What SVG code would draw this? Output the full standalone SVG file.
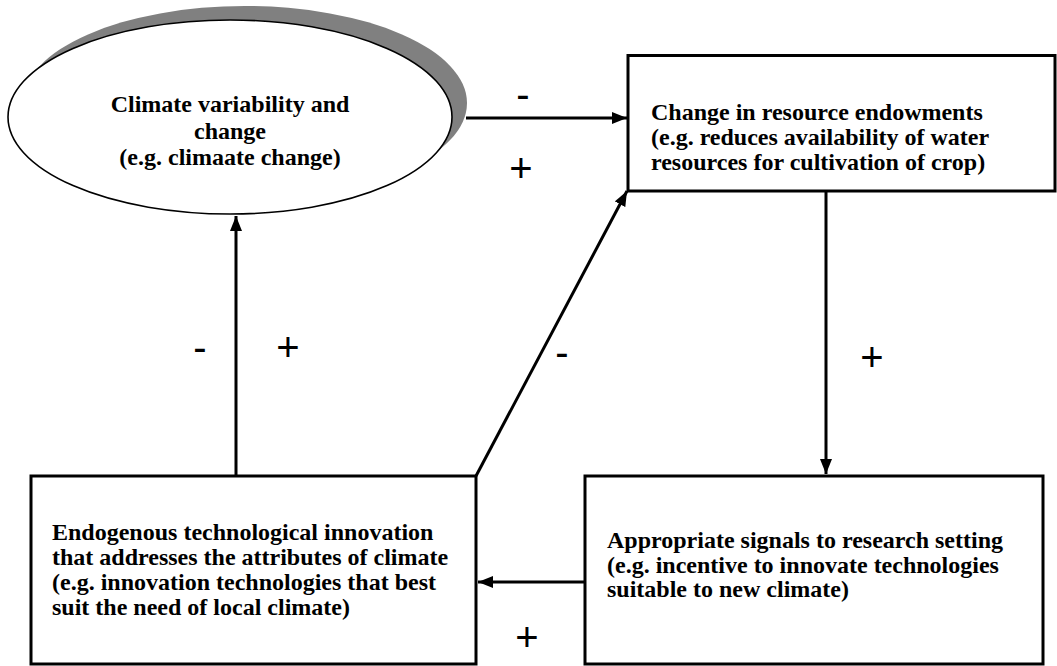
<svg xmlns="http://www.w3.org/2000/svg" width="1057" height="666" viewBox="0 0 1057 666">
<style>
.box{fill:#fff;stroke:#000;stroke-width:3}
.t{font-family:"Liberation Serif","Times New Roman",serif;font-weight:bold;font-size:24px;fill:#000}
.lbl{font-family:"Liberation Sans",Arial,sans-serif;font-size:40px;fill:#000;text-anchor:middle}
.c{fill:none;stroke:#000;stroke-width:3}
</style>
<defs>
<marker id="ah" markerUnits="userSpaceOnUse" markerWidth="16" markerHeight="13" refX="15" refY="6" orient="auto">
<path d="M0,0 L15,6 L0,12 z" fill="#000"/>
</marker>
</defs>
<rect width="1057" height="666" fill="#fff"/>
<g id="node-climate">
<ellipse cx="245" cy="103" rx="222" ry="97" fill="#808080"/>
<ellipse cx="230" cy="117" rx="222" ry="97" fill="#fff" stroke="#000" stroke-width="1.6"/>
<text class="t" text-anchor="middle"><tspan x="230" y="112">Climate variability and</tspan><tspan x="230" y="138.5">change</tspan><tspan x="230" y="165">(e.g. climaate change)</tspan></text>
</g>
<g id="node-resource">
<rect class="box" x="628" y="55.5" width="427" height="135.5"/>
<text class="t"><tspan x="651" y="120">Change in resource endowments</tspan><tspan x="651" y="145">(e.g. reduces availability of water</tspan><tspan x="651" y="169.5">resources for cultivation of crop)</tspan></text>
</g>
<g id="node-innovation">
<rect class="box" x="31" y="476" width="445" height="188"/>
<text class="t"><tspan x="52" y="540">Endogenous technological innovation</tspan><tspan x="52" y="565">that addresses the attributes of climate</tspan><tspan x="52" y="590">(e.g. innovation technologies that best</tspan><tspan x="52" y="615">suit the need of local climate)</tspan></text>
</g>
<g id="node-signals">
<rect class="box" x="585" y="476" width="458" height="188"/>
<text class="t"><tspan x="607" y="548">Appropriate signals to research setting</tspan><tspan x="607" y="572.5">(e.g. incentive to innovate technologies</tspan><tspan x="607" y="597">suitable to new climate)</tspan></text>
</g>
<g id="connectors">
<line class="c" x1="466" y1="118" x2="627" y2="118" marker-end="url(#ah)"/>
<line class="c" x1="826" y1="191" x2="826" y2="474" marker-end="url(#ah)"/>
<line class="c" x1="585" y1="582" x2="478" y2="582" marker-end="url(#ah)"/>
<line class="c" x1="236" y1="476" x2="236" y2="216" marker-end="url(#ah)"/>
<line class="c" x1="476" y1="476" x2="627" y2="191" marker-end="url(#ah)"/>
</g>
<g id="labels">
<text class="lbl" x="523" y="108">-</text>
<text class="lbl" x="521" y="182">+</text>
<text class="lbl" x="200" y="361">-</text>
<text class="lbl" x="288" y="361">+</text>
<text class="lbl" x="562" y="366">-</text>
<text class="lbl" x="872" y="371">+</text>
<text class="lbl" x="527" y="651">+</text>
</g>
</svg>
